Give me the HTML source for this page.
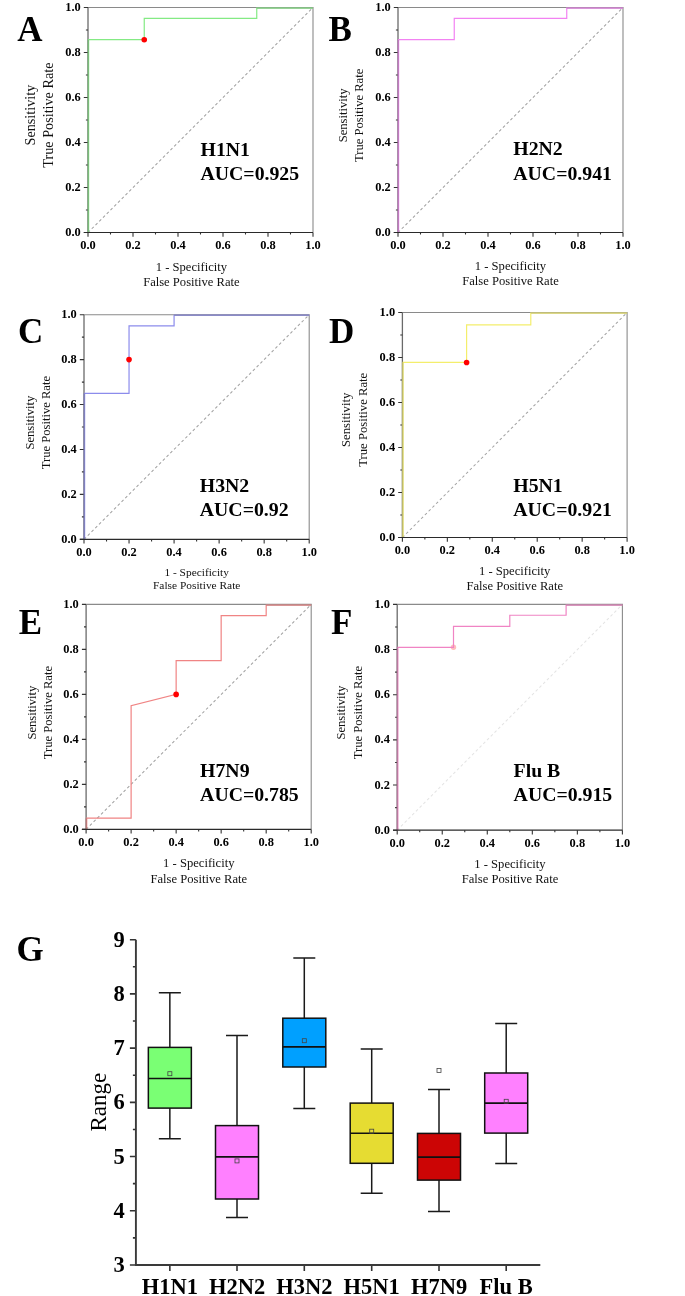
<!DOCTYPE html>
<html><head><meta charset="utf-8"><title>ROC curves and box plot</title>
<style>
html,body{margin:0;padding:0;background:#fff;}
body{width:685px;height:1296px;overflow:hidden;}
svg{display:block;will-change:transform;}
text{font-family:"Liberation Serif", serif;fill:#000;}
.tl{font-size:12.4px;font-weight:bold;}
.an{font-size:19.8px;font-weight:bold;}
.lt{font-size:35px;font-weight:bold;}
.ti{font-weight:normal;fill:#111;}
.gl{font-size:22.5px;font-weight:bold;}
.gx{font-size:22.5px;font-weight:bold;}
.gr{font-size:23px;}
</style></head><body>
<svg width="685" height="1296" viewBox="0 0 685 1296">
<rect width="685" height="1296" fill="#fff"/>
<line x1="88.00" y1="232.50" x2="313.00" y2="7.50" stroke="#a2a2a2" stroke-width="1.05" stroke-dasharray="2.8,2.5"/>
<path d="M88.00 7.50H313.00V232.50" fill="none" stroke="#8a8a8a" stroke-width="1.1"/>
<line x1="88.00" y1="7.50" x2="88.00" y2="232.50" stroke="#6a6a6a" stroke-width="1.3"/>
<path d="M88.00 232.50v4.2M88.00 232.50h-4.2M110.50 232.50v2.1M88.00 210.00h-2.1M133.00 232.50v4.2M88.00 187.50h-4.2M155.50 232.50v2.1M88.00 165.00h-2.1M178.00 232.50v4.2M88.00 142.50h-4.2M200.50 232.50v2.1M88.00 120.00h-2.1M223.00 232.50v4.2M88.00 97.50h-4.2M245.50 232.50v2.1M88.00 75.00h-2.1M268.00 232.50v4.2M88.00 52.50h-4.2M290.50 232.50v2.1M88.00 30.00h-2.1M313.00 232.50v4.2M88.00 7.50h-4.2" stroke="#333" stroke-width="1.1" fill="none"/>
<polyline points="88.60,232.50 88.60,39.68 144.25,39.68 144.25,18.30 256.75,18.30 256.75,8.20 313.00,8.20" fill="none" stroke="#84ea84" stroke-width="1.2"/>
<line x1="88.20" y1="232.50" x2="88.20" y2="39.68" stroke="#79b679" stroke-width="1.35"/>
<line x1="256.75" y1="7.80" x2="313.00" y2="7.80" stroke="#87ba87" stroke-width="1.6"/>
<line x1="83.80" y1="232.50" x2="313.00" y2="232.50" stroke="#2a2a2a" stroke-width="1.2"/>
<circle cx="144.25" cy="39.68" r="2.8" fill="#ff0000"/>
<text x="88.00" y="248.90" text-anchor="middle" class="tl">0.0</text>
<text x="80.70" y="236.00" text-anchor="end" class="tl">0.0</text>
<text x="133.00" y="248.90" text-anchor="middle" class="tl">0.2</text>
<text x="80.70" y="191.00" text-anchor="end" class="tl">0.2</text>
<text x="178.00" y="248.90" text-anchor="middle" class="tl">0.4</text>
<text x="80.70" y="146.00" text-anchor="end" class="tl">0.4</text>
<text x="223.00" y="248.90" text-anchor="middle" class="tl">0.6</text>
<text x="80.70" y="101.00" text-anchor="end" class="tl">0.6</text>
<text x="268.00" y="248.90" text-anchor="middle" class="tl">0.8</text>
<text x="80.70" y="56.00" text-anchor="end" class="tl">0.8</text>
<text x="313.00" y="248.90" text-anchor="middle" class="tl">1.0</text>
<text x="80.70" y="11.00" text-anchor="end" class="tl">1.0</text>
<text x="200.50" y="155.70" class="an">H1N1</text>
<text x="200.50" y="179.70" class="an">AUC=0.925</text>
<text x="17.30" y="40.70" class="lt" style="font-size:35px">A</text>
<text transform="translate(35.30,115.10) rotate(-90)" text-anchor="middle" class="ti" style="font-size:14.2px">Sensitivity</text>
<text transform="translate(53.20,115.10) rotate(-90)" text-anchor="middle" class="ti" style="font-size:14.2px">True Positive Rate</text>
<text x="191.40" y="271.40" text-anchor="middle" class="ti" style="font-size:12.6px">1 - Specificity</text>
<text x="191.40" y="286.10" text-anchor="middle" class="ti" style="font-size:12.6px">False Positive Rate</text>
<line x1="398.00" y1="232.50" x2="623.00" y2="7.50" stroke="#a2a2a2" stroke-width="1.05" stroke-dasharray="2.8,2.5"/>
<path d="M398.00 7.50H623.00V232.50" fill="none" stroke="#8a8a8a" stroke-width="1.1"/>
<line x1="398.00" y1="7.50" x2="398.00" y2="232.50" stroke="#6a6a6a" stroke-width="1.3"/>
<path d="M398.00 232.50v4.2M398.00 232.50h-4.2M420.50 232.50v2.1M398.00 210.00h-2.1M443.00 232.50v4.2M398.00 187.50h-4.2M465.50 232.50v2.1M398.00 165.00h-2.1M488.00 232.50v4.2M398.00 142.50h-4.2M510.50 232.50v2.1M398.00 120.00h-2.1M533.00 232.50v4.2M398.00 97.50h-4.2M555.50 232.50v2.1M398.00 75.00h-2.1M578.00 232.50v4.2M398.00 52.50h-4.2M600.50 232.50v2.1M398.00 30.00h-2.1M623.00 232.50v4.2M398.00 7.50h-4.2" stroke="#333" stroke-width="1.1" fill="none"/>
<polyline points="398.60,232.50 398.60,39.68 454.25,39.68 454.25,18.30 566.75,18.30 566.75,8.20 623.00,8.20" fill="none" stroke="#f282f2" stroke-width="1.2"/>
<line x1="398.20" y1="232.50" x2="398.20" y2="39.68" stroke="#bb78bb" stroke-width="1.35"/>
<line x1="566.75" y1="7.80" x2="623.00" y2="7.80" stroke="#be86be" stroke-width="1.6"/>
<line x1="393.80" y1="232.50" x2="623.00" y2="232.50" stroke="#2a2a2a" stroke-width="1.2"/>
<text x="398.00" y="248.90" text-anchor="middle" class="tl">0.0</text>
<text x="390.70" y="236.00" text-anchor="end" class="tl">0.0</text>
<text x="443.00" y="248.90" text-anchor="middle" class="tl">0.2</text>
<text x="390.70" y="191.00" text-anchor="end" class="tl">0.2</text>
<text x="488.00" y="248.90" text-anchor="middle" class="tl">0.4</text>
<text x="390.70" y="146.00" text-anchor="end" class="tl">0.4</text>
<text x="533.00" y="248.90" text-anchor="middle" class="tl">0.6</text>
<text x="390.70" y="101.00" text-anchor="end" class="tl">0.6</text>
<text x="578.00" y="248.90" text-anchor="middle" class="tl">0.8</text>
<text x="390.70" y="56.00" text-anchor="end" class="tl">0.8</text>
<text x="623.00" y="248.90" text-anchor="middle" class="tl">1.0</text>
<text x="390.70" y="11.00" text-anchor="end" class="tl">1.0</text>
<text x="513.30" y="155.30" class="an">H2N2</text>
<text x="513.30" y="179.50" class="an">AUC=0.941</text>
<text x="328.60" y="40.70" class="lt" style="font-size:35px">B</text>
<text transform="translate(347.10,115.40) rotate(-90)" text-anchor="middle" class="ti" style="font-size:12.6px">Sensitivity</text>
<text transform="translate(362.90,115.40) rotate(-90)" text-anchor="middle" class="ti" style="font-size:12.6px">True Positive Rate</text>
<text x="510.50" y="270.20" text-anchor="middle" class="ti" style="font-size:12.6px">1 - Specificity</text>
<text x="510.50" y="285.30" text-anchor="middle" class="ti" style="font-size:12.6px">False Positive Rate</text>
<line x1="84.00" y1="539.30" x2="309.20" y2="314.70" stroke="#a2a2a2" stroke-width="1.05" stroke-dasharray="2.8,2.5"/>
<path d="M84.00 314.70H309.20V539.30" fill="none" stroke="#8a8a8a" stroke-width="1.1"/>
<line x1="84.00" y1="314.70" x2="84.00" y2="539.30" stroke="#6a6a6a" stroke-width="1.3"/>
<path d="M84.00 539.30v4.2M84.00 539.30h-4.2M106.52 539.30v2.1M84.00 516.84h-2.1M129.04 539.30v4.2M84.00 494.38h-4.2M151.56 539.30v2.1M84.00 471.92h-2.1M174.08 539.30v4.2M84.00 449.46h-4.2M196.60 539.30v2.1M84.00 427.00h-2.1M219.12 539.30v4.2M84.00 404.54h-4.2M241.64 539.30v2.1M84.00 382.08h-2.1M264.16 539.30v4.2M84.00 359.62h-4.2M286.68 539.30v2.1M84.00 337.16h-2.1M309.20 539.30v4.2M84.00 314.70h-4.2" stroke="#333" stroke-width="1.1" fill="none"/>
<polyline points="84.60,539.30 84.60,393.31 129.04,393.31 129.04,325.93 174.08,325.93 174.08,315.40 309.20,315.40" fill="none" stroke="#8c8cec" stroke-width="1.2"/>
<line x1="84.20" y1="539.30" x2="84.20" y2="393.31" stroke="#7e7eb8" stroke-width="1.35"/>
<line x1="174.08" y1="315.00" x2="309.20" y2="315.00" stroke="#8b8bbb" stroke-width="1.6"/>
<line x1="79.80" y1="539.30" x2="309.20" y2="539.30" stroke="#2a2a2a" stroke-width="1.2"/>
<circle cx="129.04" cy="359.62" r="2.8" fill="#ff0000"/>
<text x="84.00" y="555.70" text-anchor="middle" class="tl">0.0</text>
<text x="76.70" y="542.80" text-anchor="end" class="tl">0.0</text>
<text x="129.04" y="555.70" text-anchor="middle" class="tl">0.2</text>
<text x="76.70" y="497.88" text-anchor="end" class="tl">0.2</text>
<text x="174.08" y="555.70" text-anchor="middle" class="tl">0.4</text>
<text x="76.70" y="452.96" text-anchor="end" class="tl">0.4</text>
<text x="219.12" y="555.70" text-anchor="middle" class="tl">0.6</text>
<text x="76.70" y="408.04" text-anchor="end" class="tl">0.6</text>
<text x="264.16" y="555.70" text-anchor="middle" class="tl">0.8</text>
<text x="76.70" y="363.12" text-anchor="end" class="tl">0.8</text>
<text x="309.20" y="555.70" text-anchor="middle" class="tl">1.0</text>
<text x="76.70" y="318.20" text-anchor="end" class="tl">1.0</text>
<text x="199.80" y="491.80" class="an">H3N2</text>
<text x="199.80" y="515.80" class="an">AUC=0.92</text>
<text x="18.00" y="343.30" class="lt" style="font-size:35px">C</text>
<text transform="translate(33.50,422.60) rotate(-90)" text-anchor="middle" class="ti" style="font-size:12.6px">Sensitivity</text>
<text transform="translate(49.50,422.60) rotate(-90)" text-anchor="middle" class="ti" style="font-size:12.6px">True Positive Rate</text>
<text x="196.70" y="575.70" text-anchor="middle" class="ti" style="font-size:11.4px">1 - Specificity</text>
<text x="196.70" y="589.20" text-anchor="middle" class="ti" style="font-size:11.4px">False Positive Rate</text>
<line x1="402.40" y1="537.50" x2="627.10" y2="312.50" stroke="#a2a2a2" stroke-width="1.05" stroke-dasharray="2.8,2.5"/>
<path d="M402.40 312.50H627.10V537.50" fill="none" stroke="#8a8a8a" stroke-width="1.1"/>
<line x1="402.40" y1="312.50" x2="402.40" y2="537.50" stroke="#6a6a6a" stroke-width="1.3"/>
<path d="M402.40 537.50v4.2M402.40 537.50h-4.2M424.87 537.50v2.1M402.40 515.00h-2.1M447.34 537.50v4.2M402.40 492.50h-4.2M469.81 537.50v2.1M402.40 470.00h-2.1M492.28 537.50v4.2M402.40 447.50h-4.2M514.75 537.50v2.1M402.40 425.00h-2.1M537.22 537.50v4.2M402.40 402.50h-4.2M559.69 537.50v2.1M402.40 380.00h-2.1M582.16 537.50v4.2M402.40 357.50h-4.2M604.63 537.50v2.1M402.40 335.00h-2.1M627.10 537.50v4.2M402.40 312.50h-4.2" stroke="#333" stroke-width="1.1" fill="none"/>
<polyline points="403.00,537.50 403.00,362.45 466.60,362.45 466.60,324.88 530.79,324.88 530.79,313.20 627.10,313.20" fill="none" stroke="#f4ee6c" stroke-width="1.2"/>
<line x1="402.60" y1="537.50" x2="402.60" y2="362.45" stroke="#bcb96b" stroke-width="1.35"/>
<line x1="530.79" y1="312.80" x2="627.10" y2="312.80" stroke="#bfbc7b" stroke-width="1.6"/>
<line x1="398.20" y1="537.50" x2="627.10" y2="537.50" stroke="#2a2a2a" stroke-width="1.2"/>
<circle cx="466.60" cy="362.45" r="2.8" fill="#ff0000"/>
<text x="402.40" y="553.90" text-anchor="middle" class="tl">0.0</text>
<text x="395.10" y="541.00" text-anchor="end" class="tl">0.0</text>
<text x="447.34" y="553.90" text-anchor="middle" class="tl">0.2</text>
<text x="395.10" y="496.00" text-anchor="end" class="tl">0.2</text>
<text x="492.28" y="553.90" text-anchor="middle" class="tl">0.4</text>
<text x="395.10" y="451.00" text-anchor="end" class="tl">0.4</text>
<text x="537.22" y="553.90" text-anchor="middle" class="tl">0.6</text>
<text x="395.10" y="406.00" text-anchor="end" class="tl">0.6</text>
<text x="582.16" y="553.90" text-anchor="middle" class="tl">0.8</text>
<text x="395.10" y="361.00" text-anchor="end" class="tl">0.8</text>
<text x="627.10" y="553.90" text-anchor="middle" class="tl">1.0</text>
<text x="395.10" y="316.00" text-anchor="end" class="tl">1.0</text>
<text x="513.30" y="491.80" class="an">H5N1</text>
<text x="513.30" y="515.50" class="an">AUC=0.921</text>
<text x="329.00" y="343.40" class="lt" style="font-size:35px">D</text>
<text transform="translate(350.30,419.80) rotate(-90)" text-anchor="middle" class="ti" style="font-size:12.7px">Sensitivity</text>
<text transform="translate(366.60,419.80) rotate(-90)" text-anchor="middle" class="ti" style="font-size:12.7px">True Positive Rate</text>
<text x="514.70" y="575.00" text-anchor="middle" class="ti" style="font-size:12.6px">1 - Specificity</text>
<text x="514.70" y="590.20" text-anchor="middle" class="ti" style="font-size:12.6px">False Positive Rate</text>
<line x1="86.10" y1="829.40" x2="311.20" y2="604.40" stroke="#a2a2a2" stroke-width="1.05" stroke-dasharray="2.8,2.5"/>
<path d="M86.10 604.40H311.20V829.40" fill="none" stroke="#8a8a8a" stroke-width="1.1"/>
<line x1="86.10" y1="604.40" x2="86.10" y2="829.40" stroke="#6a6a6a" stroke-width="1.3"/>
<path d="M86.10 829.40v4.2M86.10 829.40h-4.2M108.61 829.40v2.1M86.10 806.90h-2.1M131.12 829.40v4.2M86.10 784.40h-4.2M153.63 829.40v2.1M86.10 761.90h-2.1M176.14 829.40v4.2M86.10 739.40h-4.2M198.65 829.40v2.1M86.10 716.90h-2.1M221.16 829.40v4.2M86.10 694.40h-4.2M243.67 829.40v2.1M86.10 671.90h-2.1M266.18 829.40v4.2M86.10 649.40h-4.2M288.69 829.40v2.1M86.10 626.90h-2.1M311.20 829.40v4.2M86.10 604.40h-4.2" stroke="#333" stroke-width="1.1" fill="none"/>
<polyline points="86.70,829.40 86.70,818.15 131.12,818.15 131.12,705.65 176.14,694.40 176.14,660.65 221.16,660.65 221.16,615.65 266.18,615.65 266.18,605.10 311.20,605.10" fill="none" stroke="#f08484" stroke-width="1.2"/>
<line x1="86.30" y1="829.40" x2="86.30" y2="818.15" stroke="#ba7979" stroke-width="1.35"/>
<line x1="266.18" y1="604.70" x2="311.20" y2="604.70" stroke="#bd8787" stroke-width="1.6"/>
<line x1="81.90" y1="829.40" x2="311.20" y2="829.40" stroke="#2a2a2a" stroke-width="1.2"/>
<circle cx="176.14" cy="694.40" r="2.8" fill="#ff0000"/>
<text x="86.10" y="845.80" text-anchor="middle" class="tl">0.0</text>
<text x="78.80" y="832.90" text-anchor="end" class="tl">0.0</text>
<text x="131.12" y="845.80" text-anchor="middle" class="tl">0.2</text>
<text x="78.80" y="787.90" text-anchor="end" class="tl">0.2</text>
<text x="176.14" y="845.80" text-anchor="middle" class="tl">0.4</text>
<text x="78.80" y="742.90" text-anchor="end" class="tl">0.4</text>
<text x="221.16" y="845.80" text-anchor="middle" class="tl">0.6</text>
<text x="78.80" y="697.90" text-anchor="end" class="tl">0.6</text>
<text x="266.18" y="845.80" text-anchor="middle" class="tl">0.8</text>
<text x="78.80" y="652.90" text-anchor="end" class="tl">0.8</text>
<text x="311.20" y="845.80" text-anchor="middle" class="tl">1.0</text>
<text x="78.80" y="607.90" text-anchor="end" class="tl">1.0</text>
<text x="200.10" y="776.90" class="an">H7N9</text>
<text x="200.10" y="801.40" class="an">AUC=0.785</text>
<text x="18.80" y="633.80" class="lt" style="font-size:35px">E</text>
<text transform="translate(35.60,712.60) rotate(-90)" text-anchor="middle" class="ti" style="font-size:12.6px">Sensitivity</text>
<text transform="translate(51.50,712.60) rotate(-90)" text-anchor="middle" class="ti" style="font-size:12.6px">True Positive Rate</text>
<text x="198.80" y="867.40" text-anchor="middle" class="ti" style="font-size:12.6px">1 - Specificity</text>
<text x="198.80" y="882.60" text-anchor="middle" class="ti" style="font-size:12.6px">False Positive Rate</text>
<line x1="397.20" y1="830.20" x2="622.40" y2="604.40" stroke="#e4e4e4" stroke-width="1.05" stroke-dasharray="2.8,2.5"/>
<path d="M397.20 604.40H622.40V830.20" fill="none" stroke="#8a8a8a" stroke-width="1.1"/>
<line x1="397.20" y1="604.40" x2="397.20" y2="830.20" stroke="#6a6a6a" stroke-width="1.3"/>
<path d="M397.20 830.20v4.2M397.20 830.20h-4.2M419.72 830.20v2.1M397.20 807.62h-2.1M442.24 830.20v4.2M397.20 785.04h-4.2M464.76 830.20v2.1M397.20 762.46h-2.1M487.28 830.20v4.2M397.20 739.88h-4.2M509.80 830.20v2.1M397.20 717.30h-2.1M532.32 830.20v4.2M397.20 694.72h-4.2M554.84 830.20v2.1M397.20 672.14h-2.1M577.36 830.20v4.2M397.20 649.56h-4.2M599.88 830.20v2.1M397.20 626.98h-2.1M622.40 830.20v4.2M397.20 604.40h-4.2" stroke="#333" stroke-width="1.1" fill="none"/>
<circle cx="453.50" cy="647.30" r="2.7" fill="#ffbcbc"/>
<polyline points="397.80,830.20 397.80,647.30 453.50,647.30 453.50,626.30 509.80,626.30 509.80,615.24 566.10,615.24 566.10,605.10 622.40,605.10" fill="none" stroke="#f084c4" stroke-width="1.2"/>
<line x1="397.40" y1="830.20" x2="397.40" y2="647.30" stroke="#ba79a0" stroke-width="1.35"/>
<line x1="566.10" y1="604.70" x2="622.40" y2="604.70" stroke="#bd87a7" stroke-width="1.6"/>
<line x1="393.00" y1="830.20" x2="622.40" y2="830.20" stroke="#2a2a2a" stroke-width="1.2"/>
<text x="397.20" y="846.60" text-anchor="middle" class="tl">0.0</text>
<text x="389.90" y="833.70" text-anchor="end" class="tl">0.0</text>
<text x="442.24" y="846.60" text-anchor="middle" class="tl">0.2</text>
<text x="389.90" y="788.54" text-anchor="end" class="tl">0.2</text>
<text x="487.28" y="846.60" text-anchor="middle" class="tl">0.4</text>
<text x="389.90" y="743.38" text-anchor="end" class="tl">0.4</text>
<text x="532.32" y="846.60" text-anchor="middle" class="tl">0.6</text>
<text x="389.90" y="698.22" text-anchor="end" class="tl">0.6</text>
<text x="577.36" y="846.60" text-anchor="middle" class="tl">0.8</text>
<text x="389.90" y="653.06" text-anchor="end" class="tl">0.8</text>
<text x="622.40" y="846.60" text-anchor="middle" class="tl">1.0</text>
<text x="389.90" y="607.90" text-anchor="end" class="tl">1.0</text>
<text x="513.60" y="776.90" class="an">Flu B</text>
<text x="513.60" y="801.40" class="an">AUC=0.915</text>
<text x="331.00" y="633.80" class="lt" style="font-size:35px">F</text>
<text transform="translate(345.20,712.60) rotate(-90)" text-anchor="middle" class="ti" style="font-size:12.6px">Sensitivity</text>
<text transform="translate(361.90,712.60) rotate(-90)" text-anchor="middle" class="ti" style="font-size:12.6px">True Positive Rate</text>
<text x="510.00" y="868.10" text-anchor="middle" class="ti" style="font-size:12.6px">1 - Specificity</text>
<text x="510.00" y="883.30" text-anchor="middle" class="ti" style="font-size:12.6px">False Positive Rate</text>
<path d="M169.85 992.70V1047.40M169.85 1108.10V1138.70M158.85 992.70h22.0M158.85 1138.70h22.0" stroke="#1a1a1a" stroke-width="1.5" fill="none"/>
<rect x="148.35" y="1047.40" width="43.0" height="60.70" fill="#7aff74" stroke="#111" stroke-width="1.5"/>
<line x1="148.35" y1="1078.50" x2="191.35" y2="1078.50" stroke="#111" stroke-width="1.6"/>
<rect x="167.85" y="1071.70" width="4" height="4" fill="none" stroke="#444" stroke-width="0.8"/>
<path d="M237.00 1035.40V1125.60M237.00 1199.00V1217.60M226.00 1035.40h22.0M226.00 1217.60h22.0" stroke="#1a1a1a" stroke-width="1.5" fill="none"/>
<rect x="215.50" y="1125.60" width="43.0" height="73.40" fill="#ff80ff" stroke="#111" stroke-width="1.5"/>
<line x1="215.50" y1="1156.90" x2="258.50" y2="1156.90" stroke="#111" stroke-width="1.6"/>
<rect x="235.00" y="1158.90" width="4" height="4" fill="none" stroke="#444" stroke-width="0.8"/>
<path d="M304.30 958.00V1018.20M304.30 1067.00V1108.60M293.30 958.00h22.0M293.30 1108.60h22.0" stroke="#1a1a1a" stroke-width="1.5" fill="none"/>
<rect x="282.80" y="1018.20" width="43.0" height="48.80" fill="#00a0ff" stroke="#111" stroke-width="1.5"/>
<line x1="282.80" y1="1046.90" x2="325.80" y2="1046.90" stroke="#111" stroke-width="1.6"/>
<rect x="302.30" y="1038.70" width="4" height="4" fill="none" stroke="#444" stroke-width="0.8"/>
<path d="M371.70 1049.00V1103.10M371.70 1163.30V1193.30M360.70 1049.00h22.0M360.70 1193.30h22.0" stroke="#1a1a1a" stroke-width="1.5" fill="none"/>
<rect x="350.20" y="1103.10" width="43.0" height="60.20" fill="#e6dc32" stroke="#111" stroke-width="1.5"/>
<line x1="350.20" y1="1133.20" x2="393.20" y2="1133.20" stroke="#111" stroke-width="1.6"/>
<rect x="369.70" y="1129.20" width="4" height="4" fill="none" stroke="#444" stroke-width="0.8"/>
<path d="M439.00 1089.60V1133.40M439.00 1180.10V1211.40M428.00 1089.60h22.0M428.00 1211.40h22.0" stroke="#1a1a1a" stroke-width="1.5" fill="none"/>
<rect x="417.50" y="1133.40" width="43.0" height="46.70" fill="#cc0505" stroke="#111" stroke-width="1.5"/>
<line x1="417.50" y1="1157.10" x2="460.50" y2="1157.10" stroke="#111" stroke-width="1.6"/>
<rect x="437.00" y="1068.40" width="4" height="4" fill="none" stroke="#444" stroke-width="0.8"/>
<path d="M506.20 1023.40V1073.00M506.20 1133.10V1163.50M495.20 1023.40h22.0M495.20 1163.50h22.0" stroke="#1a1a1a" stroke-width="1.5" fill="none"/>
<rect x="484.70" y="1073.00" width="43.0" height="60.10" fill="#ff80ff" stroke="#111" stroke-width="1.5"/>
<line x1="484.70" y1="1103.10" x2="527.70" y2="1103.10" stroke="#111" stroke-width="1.6"/>
<rect x="504.20" y="1099.30" width="4" height="4" fill="none" stroke="#444" stroke-width="0.8"/>
<path d="M135.90 1265.00h-6M135.90 1237.89h-3M135.90 1210.78h-6M135.90 1183.67h-3M135.90 1156.57h-6M135.90 1129.46h-3M135.90 1102.35h-6M135.90 1075.24h-3M135.90 1048.13h-6M135.90 1021.03h-3M135.90 993.92h-6M135.90 966.81h-3M135.90 939.70h-6M169.85 1265.00v6M237.00 1265.00v6M304.30 1265.00v6M371.70 1265.00v6M439.00 1265.00v6M506.20 1265.00v6" stroke="#333" stroke-width="1.6" fill="none"/>
<path d="M135.90 939.70V1265.00H540.30" stroke="#3a3a3a" stroke-width="1.9" fill="none"/>
<text x="124.8" y="1272.00" text-anchor="end" class="gl">3</text>
<text x="124.8" y="1217.78" text-anchor="end" class="gl">4</text>
<text x="124.8" y="1163.57" text-anchor="end" class="gl">5</text>
<text x="124.8" y="1109.35" text-anchor="end" class="gl">6</text>
<text x="124.8" y="1055.13" text-anchor="end" class="gl">7</text>
<text x="124.8" y="1000.92" text-anchor="end" class="gl">8</text>
<text x="124.8" y="946.70" text-anchor="end" class="gl">9</text>
<text x="169.85" y="1294" text-anchor="middle" class="gx">H1N1</text>
<text x="237.00" y="1294" text-anchor="middle" class="gx">H2N2</text>
<text x="304.30" y="1294" text-anchor="middle" class="gx">H3N2</text>
<text x="371.70" y="1294" text-anchor="middle" class="gx">H5N1</text>
<text x="439.00" y="1294" text-anchor="middle" class="gx">H7N9</text>
<text x="506.20" y="1294" text-anchor="middle" class="gx">Flu B</text>
<text transform="translate(106.4,1102.2) rotate(-90)" text-anchor="middle" class="gr">Range</text>
<text x="16.5" y="961" class="lt">G</text>
</svg>
</body></html>
